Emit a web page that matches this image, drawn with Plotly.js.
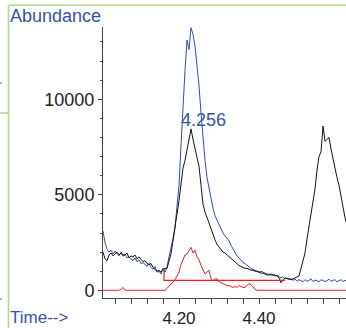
<!DOCTYPE html>
<html>
<head>
<meta charset="utf-8">
<script src="https://cdn.plot.ly/plotly-3.0.1.min.js"></script>
<style>html,body{margin:0;padding:0;background:#fff;}#chart{width:346px;height:328px;}</style>
</head>
<body>
<div id="chart"></div>
<script>
// Retention time (min)
var time = [4.010,4.015,4.020,4.025,4.030,4.035,4.040,4.045,4.050,4.055,
4.060,4.065,4.070,4.075,4.080,4.085,4.090,4.095,4.100,4.105,
4.110,4.115,4.120,4.125,4.130,4.135,4.140,4.145,4.150,4.155,
4.160,4.165,4.170,4.175,4.180,4.185,4.190,4.195,4.200,4.205,
4.210,4.215,4.220,4.225,4.230,4.235,4.240,4.245,4.250,4.255,
4.260,4.265,4.270,4.275,4.280,4.285,4.290,4.295,4.300,4.305,
4.310,4.315,4.320,4.325,4.330,4.335,4.340,4.345,4.350,4.355,
4.360,4.365,4.370,4.375,4.380,4.385,4.390,4.395,4.400,4.405,
4.410,4.415,4.420,4.425,4.430,4.435,4.440,4.445,4.450,4.455,
4.460,4.465,4.470,4.475,4.480,4.485,4.490,4.495,4.500,4.505,
4.510,4.515,4.520,4.525,4.530,4.535,4.540,4.545,4.550,4.555,
4.560,4.565,4.570,4.575,4.580,4.585,4.590,4.595,4.600,4.605,
4.610,4.615,4.620];

var blueSignal = [3100,2500,2150,2000,2100,1900,2050,1950,1800,2000,
1850,1900,1700,1750,1650,1550,1700,1500,1600,1400,
1450,1350,1250,1400,1200,1100,1250,950,1000,850,
1150,950,1200,1750,2150,2700,3300,4300,5500,7600,
9800,11500,13100,12600,13750,13400,12800,11900,10700,9300,
7900,6800,5900,5300,4800,4300,3900,3650,3400,3200,
3000,2850,2700,2600,2350,2150,1950,1800,1700,1550,
1450,1400,1300,1250,1150,1100,1050,1000,950,1000,
950,900,850,850,800,800,750,780,700,650,
720,600,650,560,620,520,600,470,560,520,
450,560,470,520,600,450,540,500,440,560,
520,460,510,580,470,500,560,440,520,560,
460,520,470];

var blackSignal = [2000,1650,1550,1850,1950,1800,1900,2000,1850,1950,
1800,1850,1950,1700,1800,1750,1850,1650,1750,1600,
1500,1550,1400,1350,1400,1200,1100,1000,1050,950,
1100,1150,1150,1500,1900,2600,3200,4000,4700,5600,
6400,6800,7350,7800,8450,7900,7350,6950,6500,5400,
4500,4100,3800,3500,3150,2850,2650,2400,2250,2150,
2000,1950,1850,1800,1700,1600,1450,1400,1300,1250,
1200,1150,1150,1100,1050,1050,1000,1000,950,900,
900,850,800,800,850,800,800,750,650,400,
550,650,600,600,550,600,650,700,750,1150,
1600,1950,2700,3300,4000,4700,5300,6300,7000,7250,
8600,7800,7900,8000,7400,6900,6300,5900,5500,4900,
4400,3800,3400];

var redSignal = [0,0,0,0,0,0,0,0,0,50,
150,0,0,0,0,0,0,0,0,0,
0,0,0,0,0,0,0,0,0,0,
0,0,100,200,350,450,550,750,950,1350,
1600,1850,1900,2050,2250,1950,2100,1750,1600,1300,
1100,850,950,1050,600,500,600,600,450,400,
350,300,250,250,200,150,200,150,250,200,
150,150,250,350,300,150,50,0,0,0,
0,0,0,0,0,0,0,0,0,0,
0,0,0,0,0,0,0,0,0,0,
0,0,0,0,0,0,0,0,0,0,
0,0,0,0,0,0,0,0,0,0,
0,0,0];

// Integration baseline of the labelled peak
var baseTime = [4.1625,4.1625,4.465];
var baseLevel = [1100,524,524];

var peakLabel = "4.256";
var peakLabelTime = 4.2618;
var peakLabelLevel = 8916;

var yTicks = [0,5000,10000];
var yTickText = ["0","5000","10000"];
var xTicks = [4.20,4.40];
var xTickText = ["4.20","4.40"];

var font = "Liberation Sans, Arial, sans-serif";
var blue = "#3452a6";
var green = "#addb93";

function px(x){return (x-103)/243;}
function py(y){return (298-y)/271;}

var traces = [
  {x: time, y: blueSignal, type: "scatter", mode: "lines", line: {color: "#2f4fa5", width: 1}, hoverinfo: "skip"},
  {x: time, y: blackSignal, type: "scatter", mode: "lines", line: {color: "#111111", width: 1}, hoverinfo: "skip"},
  {x: time, y: redSignal, type: "scatter", mode: "lines", line: {color: "#ee1c24", width: 1}, hoverinfo: "skip"},
  {x: baseTime, y: baseLevel, type: "scatter", mode: "lines", line: {color: "#ee1c24", width: 1.2}, hoverinfo: "skip"}
];

var layout = {
  width: 346, height: 328,
  margin: {l: 103, r: 0, t: 27, b: 30, pad: 0},
  paper_bgcolor: "#fff", plot_bgcolor: "#fff",
  showlegend: false,
  font: {family: font, size: 18, color: "#222"},
  xaxis: {
    range: [4.01, 4.6175], showgrid: false, zeroline: false,
    showline: true, linecolor: "#444", linewidth: 1,
    tickvals: xTicks, ticktext: xTickText,
    ticks: "outside", ticklen: 5, tickcolor: "#444", tickwidth: 1,
    minor: {dtick: 0.04, tick0: 4.2, ticks: "outside", ticklen: 5, tickcolor: "#444", tickwidth: 1, showgrid: false},
    tickfont: {family: font, size: 17, color: "#222"}
  },
  yaxis: {
    range: [-403, 13785], showgrid: false, zeroline: false,
    showline: true, linecolor: "#444", linewidth: 1,
    tickvals: yTicks, ticktext: yTickText,
    ticks: "outside", ticklen: 4, tickcolor: "#444", tickwidth: 1,
    minor: {dtick: 1000, tick0: 0, ticks: "outside", ticklen: 2, tickcolor: "#444", tickwidth: 1, showgrid: false},
    tickfont: {family: font, size: 18, color: "#222"}
  },
  annotations: [
    {text: "Abundance", xref: "paper", yref: "paper", x: px(8), y: py(16), xanchor: "left", yanchor: "middle", showarrow: false, font: {family: font, size: 18, color: blue}},
    {text: "Time-->", xref: "paper", yref: "paper", x: px(8), y: py(317), xanchor: "left", yanchor: "middle", showarrow: false, font: {family: font, size: 17, color: blue}},
    {text: peakLabel, xref: "x", yref: "y", x: peakLabelTime, y: peakLabelLevel, xanchor: "center", yanchor: "middle", showarrow: false, font: {family: font, size: 18, color: blue}}
  ],
  shapes: [
    {type: "line", xref: "paper", yref: "paper", x0: px(8.5), x1: px(346), y0: py(5.3), y1: py(5.3), line: {color: green, width: 1.6}},
    {type: "line", xref: "paper", yref: "paper", x0: px(8.5), x1: px(8.5), y0: py(5.3), y1: py(328), line: {color: green, width: 1.6}},
    {type: "line", xref: "paper", yref: "paper", x0: px(0), x1: px(8.5), y0: py(113), y1: py(113), line: {color: green, width: 1.6}},
    {type: "line", xref: "paper", yref: "paper", x0: px(0), x1: px(2), y0: py(83), y1: py(83), line: {color: "#666", width: 1}},
    {type: "line", xref: "paper", yref: "paper", x0: px(0), x1: px(2), y0: py(299), y1: py(299), line: {color: "#666", width: 1}}
  ]
};

Plotly.newPlot("chart", traces, layout, {displayModeBar: false, staticPlot: true});
</script>
</body>
</html>
